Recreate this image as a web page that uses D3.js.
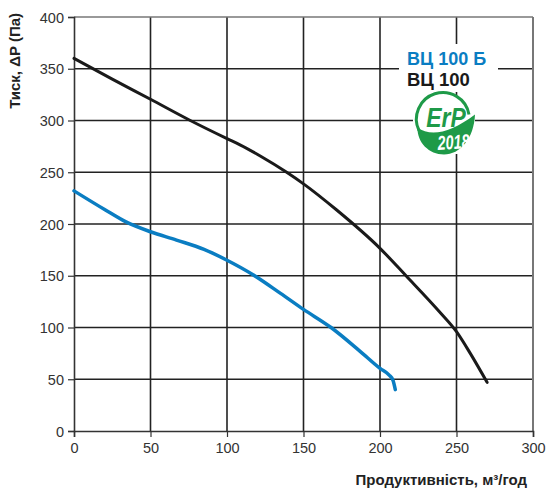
<!DOCTYPE html>
<html><head><meta charset="utf-8">
<script src="https://cdn.jsdelivr.net/npm/d3@7"></script>
<style>
body{margin:0;background:#fff;}
svg{display:block;font-family:"Liberation Sans",Arial,sans-serif;}
</style></head>
<body>
<svg id="c" width="547" height="489"></svg>
<script>
// Data
const xTicks = [0, 50, 100, 150, 200, 250, 300];
const yTicks = [0, 50, 100, 150, 200, 250, 300, 350, 400];
const seriesNames = ["ВЦ 100 Б", "ВЦ 100"];
const flowB = [0, 20, 34, 50, 67, 85, 100, 117, 135, 150, 168, 187, 200, 206, 208.5, 210];
const pressB = [232, 214, 202, 192.5, 184.5, 175.5, 165, 151, 133, 117.5, 100, 77, 60.5, 54, 49, 40];
const flow = [0, 25, 50, 76, 100, 108.5, 122, 139, 150, 171.7, 200, 217, 239, 250, 259, 270];
const press = [360, 340, 320.5, 300, 282.5, 276.5, 265.5, 250, 238.8, 213.5, 176.5, 150, 115, 96, 75, 47];
const xTitle = "Продуктивність, м³/год";
const yTitle = "Тиск, ΔP (Па)";

const svg = d3.select("#c");
const x = d3.scaleLinear().domain([0, 300]).range([74, 533]);
const y = d3.scaleLinear().domain([0, 400]).range([431, 17]);

// grid
const g = svg.append("g");
g.selectAll(".vg").data(xTicks.slice(1, -1)).join("line")
  .attr("x1", d => x(d)).attr("x2", d => x(d)).attr("y1", y(0)).attr("y2", y(400))
  .attr("stroke", "#222").attr("stroke-width", 1.6);
g.selectAll(".hg").data(yTicks.slice(1, -1)).join("line")
  .attr("x1", x(0)).attr("x2", x(300)).attr("y1", d => y(d)).attr("y2", d => y(d))
  .attr("stroke", "#222").attr("stroke-width", 1.6);
// top / right border
g.append("line").attr("x1", x(0)).attr("x2", x(300)).attr("y1", y(400)).attr("y2", y(400)).attr("stroke", "#777").attr("stroke-width", 1.6);
g.append("line").attr("x1", x(300)).attr("x2", x(300)).attr("y1", y(0)).attr("y2", y(400)).attr("stroke", "#777").attr("stroke-width", 2);

// axes
const xAxis = svg.append("g").attr("transform", `translate(0,${y(0)})`)
  .call(d3.axisBottom(x).tickValues(xTicks).tickSize(6).tickPadding(6));
const yAxis = svg.append("g").attr("transform", `translate(${x(0)},0)`)
  .call(d3.axisLeft(y).tickValues(yTicks).tickSize(6).tickPadding(4));
[xAxis, yAxis].forEach(a => {
  a.select(".domain").attr("stroke", "#333").attr("stroke-width", 1.6);
  a.selectAll(".tick line").attr("stroke", "#333").attr("stroke-width", 1.2);
  a.selectAll(".tick text").attr("fill", "#333").attr("font-size", 14.5).attr("font-family", "Liberation Sans, Arial, sans-serif");
});
yAxis.selectAll(".tick text").attr("dy", "0.35em");

// legend white box + logo white box
svg.append("rect").attr("x", 399).attr("y", 44).attr("width", 99).attr("height", 48).attr("fill", "#fff");
svg.append("rect").attr("x", 413).attr("y", 95).attr("width", 62).attr("height", 59).attr("fill", "#fff");

// curves
const line = d3.line().x(d => x(d[0])).y(d => y(d[1])).curve(d3.curveMonotoneX);
svg.append("path").datum(flowB.map((f, i) => [f, pressB[i]]))
  .attr("d", line).attr("fill", "none").attr("stroke", "#0a7dc2").attr("stroke-width", 3.5).attr("stroke-linecap", "round");
svg.append("path").datum(flow.map((f, i) => [f, press[i]]))
  .attr("d", line).attr("fill", "none").attr("stroke", "#1a1a1a").attr("stroke-width", 3).attr("stroke-linecap", "round");

// legend text
svg.append("text").attr("x", 407).attr("y", 65).attr("font-size", 18).attr("font-weight", "bold").attr("fill", "#0a7dc2").text(seriesNames[0]);
svg.append("text").attr("x", 407).attr("y", 86).attr("font-size", 18.5).attr("font-weight", "bold").attr("fill", "#1a1a1a").text(seriesNames[1]);

// ErP logo
const lg = svg.append("g").attr("transform", "translate(445,126.5)");
const green = "#1e9a48";
lg.append("path").attr("d", "M24,-12 A26.5,26.5 0 1 0 -26,4").attr("fill", "none").attr("stroke", green).attr("stroke-width", 3);
lg.append("path").attr("d", "M-27.5,1 C-14,11 6,6 30,-12 C29,12 15,28 -1,28 C-16,28 -28,16 -27.5,1 Z").attr("fill", green);
lg.append("text").attr("transform", "translate(1,0) scale(0.85,1)").attr("text-anchor", "middle").attr("font-size", 27).attr("font-weight", "bold").attr("font-style", "italic").attr("fill", green).attr("font-family", "Liberation Sans, Arial, sans-serif").text("ErP");
lg.append("text").attr("transform", "translate(9,22.5) rotate(-4) scale(0.72,1)").attr("text-anchor", "middle").attr("font-size", 20).attr("font-weight", "bold").attr("font-style", "italic").attr("fill", "#fff").attr("font-family", "Liberation Sans, Arial, sans-serif").text("2018");

// titles
svg.append("text").attr("transform", "translate(20,13) rotate(-90)").attr("text-anchor", "end")
  .attr("font-size", 15).attr("font-weight", "bold").attr("fill", "#222").text(yTitle);
svg.append("text").attr("x", 527).attr("y", 485).attr("text-anchor", "end")
  .attr("font-size", 15).attr("font-weight", "bold").attr("fill", "#222").text(xTitle);
</script>
</body></html>
